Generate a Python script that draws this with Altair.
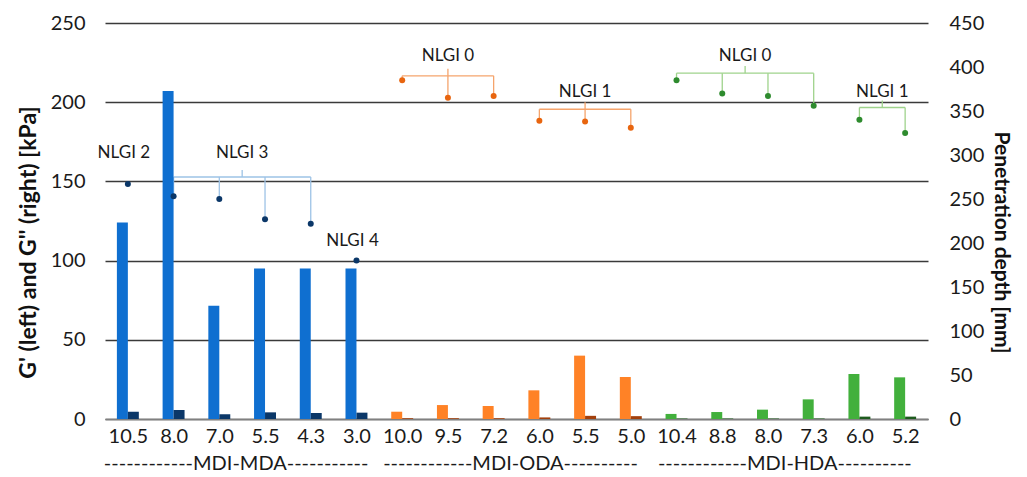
import altair as alt
import pandas as pd

# ---------------- data ----------------
categories = ["10.5", "8.0", "7.0", "5.5", "4.3", "3.0",
              "10.0", "9.5", "7.2", "6.0", "5.5", "5.0",
              "10.4", "8.8", "8.0", "7.3", "6.0", "5.2"]
groups = ["MDI-MDA"] * 6 + ["MDI-ODA"] * 6 + ["MDI-HDA"] * 6
g_storage = [124, 207, 71.5, 95, 95, 95,
             4.6, 8.8, 8.2, 18.1, 40, 26.5,
             3.2, 4.4, 5.9, 12.4, 28.4, 26.3]
g_loss = [4.6, 5.7, 3.0, 4.2, 3.8, 4.0,
          0.5, 0.5, 0.5, 1.0, 2.0, 1.8,
          0.3, 0.3, 0.3, 0.3, 1.5, 1.5]
depth = [267, 253, 250, 227, 222, 180,
         385, 365, 367, 339, 338, 331,
         385, 370, 367, 356, 340, 325]

# NLGI brackets (category index range, line level and label height in mm)
bracket_group = ["MDI-MDA", "MDI-ODA", "MDI-ODA", "MDI-HDA", "MDI-HDA"]
bracket_text = ["NLGI 3", "NLGI 0", "NLGI 1", "NLGI 0", "NLGI 1"]
bracket_first = [1, 6, 9, 12, 16]
bracket_last = [4, 8, 11, 15, 17]
bracket_level = [275, 390, 352, 393, 354]
bracket_text_y = [302, 412, 372, 412, 372]

single_text = ["NLGI 2", "NLGI 4"]
single_idx = [0, 5]
single_y = [302, 202]

group_names = ["MDI-MDA", "MDI-ODA", "MDI-HDA"]
group_labels = ["------------MDI-MDA-----------",
                "------------MDI-ODA----------",
                "------------MDI-HDA----------"]

# ---------------- styling ----------------
color_keys = ["MDI-MDA|gs", "MDI-MDA|gl", "MDI-MDA|dot", "MDI-MDA|br",
              "MDI-ODA|gs", "MDI-ODA|gl", "MDI-ODA|dot", "MDI-ODA|br",
              "MDI-HDA|gs", "MDI-HDA|gl", "MDI-HDA|dot", "MDI-HDA|br"]
color_vals = ["#0F6FD0", "#0B3768", "#0B3768", "#9DC3E6",
              "#FF8226", "#A3400C", "#E8650F", "#F5A46C",
              "#42B03C", "#1E5B1E", "#2E8B2E", "#9FD38C"]
cscale = alt.Scale(domain=color_keys, range=color_vals)

FONT = "Lato"
W, H = 823, 396

df = pd.DataFrame({"cat": categories, "group": groups, "gs": g_storage,
                   "gl": g_loss, "depth": depth})
df["idx"] = list(range(len(categories)))

br = pd.DataFrame({"group": bracket_group, "text": bracket_text,
                   "first": bracket_first, "last": bracket_last,
                   "level": bracket_level, "ty": bracket_text_y})

drops = pd.DataFrame([
    {"group": g, "idx": k, "level": lv, "depth": depth[k]}
    for g, a, b, lv in zip(bracket_group, bracket_first, bracket_last, bracket_level)
    for k in range(a, b + 1)
])

singles = pd.DataFrame({"text": single_text, "idx": single_idx, "ty": single_y})

grp = pd.DataFrame({"group": group_names, "label": group_labels})
grp["center"] = [df.loc[df.group == g, "idx"].mean() + 0.5 for g in group_names]

xscale = alt.Scale(domain=[0, len(categories)], nice=False, zero=False)
yl = alt.Scale(domain=[0, 250], nice=False)
yr = alt.Scale(domain=[0, 450], nice=False)

label_arr = "[" + ",".join("'" + c + "'" for c in categories) + "]"
x_axis = alt.Axis(values=[i + 0.5 for i in range(len(categories))],
                  labelExpr=label_arr + "[floor(datum.value)]",
                  ticks=False, grid=False, domain=True, domainColor="#808080",
                  domainWidth=1.6, labelFontSize=20, labelColor="#1a1a1a",
                  labelPadding=7, labelFont=FONT, title=None)
left_axis = alt.Axis(values=[0, 50, 100, 150, 200, 250], orient="left",
                     ticks=False, domain=False, grid=True, gridColor="#3a3a3a",
                     gridWidth=1.3, labelFontSize=20, labelColor="#1a1a1a",
                     labelPadding=20, labelFont=FONT,
                     title="G' (left) and G'' (right) [kPa]", titleFont=FONT,
                     titleFontSize=23, titleFontWeight="bold", titleColor="#111",
                     titlePadding=10, titleY=219)
right_axis = alt.Axis(values=list(range(0, 451, 50)), orient="right",
                      ticks=False, domain=False, grid=False, labelFontSize=20,
                      labelColor="#1a1a1a", labelPadding=21, labelFont=FONT,
                      title="Penetration depth [mm]", titleFont=FONT,
                      titleFontSize=21, titleFontWeight="bold", titleColor="#111",
                      titlePadding=7, titleY=219)

# ---------------- layers ----------------
bars = (alt.Chart(df)
        .transform_fold(["gs", "gl"], as_=["series", "val"])
        .transform_calculate(x0="datum.idx + (datum.series == 'gs' ? 0.26 : 0.5)")
        .transform_calculate(x1="datum.x0 + 0.24")
        .transform_calculate(ckey="datum.group + '|' + datum.series")
        .mark_bar()
        .encode(x=alt.X("x0:Q", scale=xscale, axis=x_axis),
                x2="x1:Q",
                y=alt.Y("val:Q", scale=yl, axis=left_axis),
                y2=alt.datum(0),
                color=alt.Color("ckey:N", scale=cscale, legend=None)))

br_h = (alt.Chart(br)
        .transform_calculate(xa="datum.first + 0.5", xb="datum.last + 0.5",
                             ckey="datum.group + '|br'")
        .mark_rule(strokeWidth=1.3)
        .encode(x=alt.X("xa:Q", scale=xscale, axis=None), x2="xb:Q",
                y=alt.Y("level:Q", scale=yr, axis=None),
                color=alt.Color("ckey:N", scale=cscale, legend=None)))

br_tick = (alt.Chart(br)
           .transform_calculate(xm="(datum.first + datum.last) / 2 + 0.5",
                                top="datum.level + 8",
                                ckey="datum.group + '|br'")
           .mark_rule(strokeWidth=1.3)
           .encode(x=alt.X("xm:Q", scale=xscale, axis=None),
                   y=alt.Y("level:Q", scale=yr, axis=None), y2="top:Q",
                   color=alt.Color("ckey:N", scale=cscale, legend=None)))

br_drop = (alt.Chart(drops)
           .transform_calculate(pos="datum.idx + 0.5", ckey="datum.group + '|br'")
           .mark_rule(strokeWidth=1.3)
           .encode(x=alt.X("pos:Q", scale=xscale, axis=None),
                   y=alt.Y("level:Q", scale=yr, axis=None), y2="depth:Q",
                   color=alt.Color("ckey:N", scale=cscale, legend=None)))

dots = (alt.Chart(df)
        .transform_calculate(pos="datum.idx + 0.5", ckey="datum.group + '|dot'")
        .mark_circle(size=36, opacity=1)
        .encode(x=alt.X("pos:Q", scale=xscale, axis=None),
                y=alt.Y("depth:Q", scale=yr, axis=right_axis),
                color=alt.Color("ckey:N", scale=cscale, legend=None)))

br_text = (alt.Chart(br)
           .transform_calculate(xm="(datum.first + datum.last) / 2 + 0.5")
           .mark_text(font=FONT, fontSize=17, color="#1a1a1a", baseline="middle")
           .encode(x=alt.X("xm:Q", scale=xscale, axis=None),
                   y=alt.Y("ty:Q", scale=yr, axis=None),
                   text="text:N"))

single_txt = (alt.Chart(singles)
              .transform_calculate(pos="datum.idx + 0.5")
              .mark_text(font=FONT, fontSize=17, color="#1a1a1a", baseline="middle", dx=-4)
              .encode(x=alt.X("pos:Q", scale=xscale, axis=None),
                      y=alt.Y("ty:Q", scale=yr, axis=None),
                      text="text:N"))

grp_txt = (alt.Chart(grp)
           .mark_text(font=FONT, fontSize=20, color="#1a1a1a", baseline="middle", dx=-6)
           .encode(x=alt.X("center:Q", scale=xscale, axis=None),
                   y=alt.value(H + 45),
                   text="label:N"))

chart = (alt.layer(br_h, br_tick, br_drop, bars, dots, br_text, single_txt, grp_txt)
         .resolve_scale(y="independent")
         .resolve_axis(x="independent", y="independent")
         .properties(width=W, height=H,
                     autosize=alt.AutoSizeParams(type="none"),
                     padding={"left": 97, "top": 15, "right": 91, "bottom": 55},
                     background="white")
         .configure_view(stroke=None))

chart.save("out.html", embed_options={"renderer": "svg", "actions": False})
